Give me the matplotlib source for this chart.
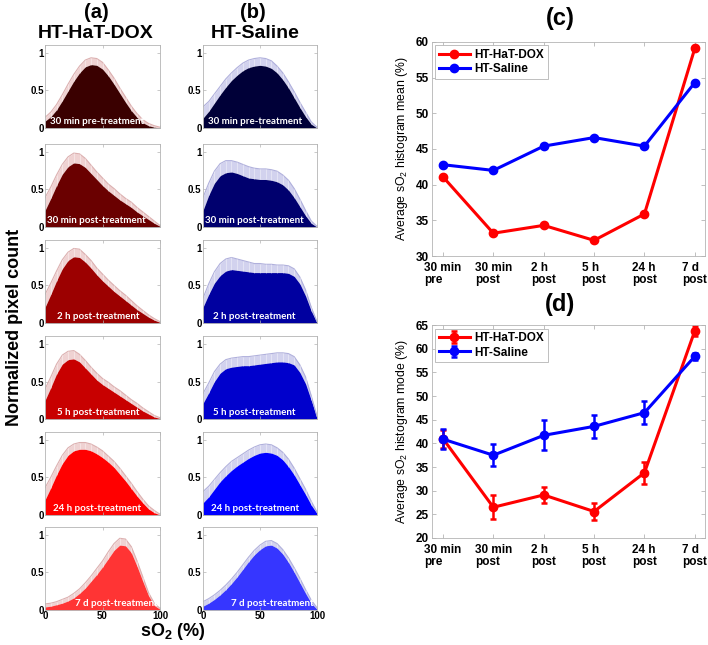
import matplotlib
matplotlib.use('Agg')
import matplotlib.pyplot as plt

# ---------------- data ----------------
so2 = [0, 5, 10, 15, 20, 25, 30, 35, 40, 45, 50, 55, 60, 65, 70, 75, 80, 85, 90, 95, 100]

panel_labels = ['30 min pre-treatment', '30 min post-treatment', '2 h post-treatment',
                '5 h post-treatment', '24 h post-treatment', '7 d post-treatment']

# HT-HaT-DOX normalized histograms (mean, upper error)
dox_pre30_mean = [0.09, 0.15, 0.24, 0.36, 0.49, 0.62, 0.73, 0.81, 0.84, 0.83, 0.78, 0.69, 0.58, 0.46, 0.34, 0.23, 0.14, 0.07, 0.03, 0.01, 0.0]
dox_pre30_err = [0.05, 0.06, 0.07, 0.08, 0.09, 0.09, 0.09, 0.09, 0.09, 0.09, 0.09, 0.08, 0.08, 0.07, 0.07, 0.06, 0.05, 0.04, 0.03, 0.02, 0.01]
dox_post30_mean = [0.22, 0.38, 0.55, 0.70, 0.80, 0.85, 0.84, 0.79, 0.71, 0.63, 0.55, 0.48, 0.42, 0.36, 0.31, 0.26, 0.20, 0.15, 0.10, 0.05, 0.01]
dox_post30_err = [0.17, 0.15, 0.14, 0.13, 0.13, 0.13, 0.13, 0.12, 0.11, 0.10, 0.10, 0.09, 0.09, 0.08, 0.07, 0.07, 0.06, 0.05, 0.04, 0.03, 0.01]
dox_2h_mean = [0.21, 0.38, 0.56, 0.72, 0.83, 0.88, 0.87, 0.81, 0.73, 0.64, 0.56, 0.49, 0.42, 0.36, 0.30, 0.24, 0.18, 0.13, 0.08, 0.04, 0.01]
dox_2h_err = [0.17, 0.15, 0.13, 0.12, 0.11, 0.11, 0.11, 0.10, 0.10, 0.09, 0.09, 0.08, 0.08, 0.07, 0.07, 0.06, 0.05, 0.04, 0.03, 0.02, 0.01]
dox_5h_mean = [0.25, 0.42, 0.60, 0.73, 0.79, 0.80, 0.76, 0.68, 0.60, 0.52, 0.46, 0.41, 0.36, 0.31, 0.26, 0.21, 0.16, 0.11, 0.07, 0.03, 0.01]
dox_5h_err = [0.15, 0.14, 0.13, 0.12, 0.11, 0.11, 0.10, 0.10, 0.09, 0.09, 0.08, 0.08, 0.07, 0.07, 0.06, 0.05, 0.05, 0.04, 0.03, 0.02, 0.01]
dox_24h_mean = [0.20, 0.36, 0.53, 0.68, 0.79, 0.85, 0.87, 0.87, 0.85, 0.81, 0.76, 0.70, 0.63, 0.54, 0.45, 0.35, 0.25, 0.16, 0.08, 0.03, 0.0]
dox_24h_err = [0.16, 0.14, 0.12, 0.11, 0.10, 0.09, 0.09, 0.09, 0.09, 0.09, 0.09, 0.08, 0.08, 0.08, 0.07, 0.07, 0.06, 0.05, 0.04, 0.03, 0.01]
dox_7d_mean = [0.04, 0.05, 0.07, 0.09, 0.12, 0.16, 0.22, 0.29, 0.38, 0.47, 0.57, 0.68, 0.79, 0.86, 0.85, 0.76, 0.58, 0.38, 0.19, 0.06, 0.01]
dox_7d_err = [0.04, 0.04, 0.04, 0.05, 0.05, 0.06, 0.06, 0.07, 0.07, 0.08, 0.08, 0.09, 0.09, 0.09, 0.09, 0.08, 0.07, 0.06, 0.04, 0.03, 0.01]

# HT-Saline normalized histograms (mean, upper error)
sal_pre30_mean = [0.13, 0.22, 0.33, 0.44, 0.54, 0.63, 0.70, 0.76, 0.80, 0.82, 0.83, 0.82, 0.79, 0.73, 0.64, 0.53, 0.40, 0.27, 0.15, 0.05, 0.0]
sal_pre30_err = [0.15, 0.13, 0.12, 0.11, 0.11, 0.10, 0.10, 0.10, 0.10, 0.10, 0.10, 0.10, 0.10, 0.09, 0.09, 0.08, 0.08, 0.07, 0.06, 0.03, 0.01]
sal_post30_mean = [0.22, 0.42, 0.58, 0.68, 0.72, 0.73, 0.71, 0.68, 0.65, 0.64, 0.63, 0.63, 0.62, 0.60, 0.56, 0.49, 0.39, 0.27, 0.15, 0.05, 0.0]
sal_post30_err = [0.17, 0.16, 0.16, 0.16, 0.16, 0.15, 0.15, 0.15, 0.15, 0.14, 0.14, 0.14, 0.14, 0.14, 0.13, 0.13, 0.12, 0.10, 0.07, 0.03, 0.01]
sal_2h_mean = [0.21, 0.38, 0.53, 0.63, 0.69, 0.71, 0.70, 0.69, 0.68, 0.67, 0.67, 0.67, 0.67, 0.67, 0.67, 0.66, 0.62, 0.52, 0.36, 0.16, 0.01]
sal_2h_err = [0.12, 0.14, 0.15, 0.16, 0.16, 0.16, 0.15, 0.14, 0.13, 0.12, 0.12, 0.11, 0.11, 0.10, 0.10, 0.10, 0.10, 0.09, 0.08, 0.05, 0.01]
sal_5h_mean = [0.21, 0.35, 0.50, 0.61, 0.67, 0.69, 0.70, 0.71, 0.71, 0.72, 0.73, 0.74, 0.75, 0.76, 0.76, 0.75, 0.72, 0.62, 0.47, 0.25, 0.02]
sal_5h_err = [0.13, 0.13, 0.13, 0.12, 0.12, 0.12, 0.12, 0.12, 0.12, 0.12, 0.12, 0.12, 0.12, 0.12, 0.12, 0.12, 0.11, 0.10, 0.09, 0.06, 0.02]
sal_24h_mean = [0.16, 0.24, 0.34, 0.44, 0.52, 0.59, 0.65, 0.70, 0.75, 0.79, 0.82, 0.83, 0.82, 0.79, 0.73, 0.64, 0.53, 0.40, 0.27, 0.13, 0.02]
sal_24h_err = [0.15, 0.14, 0.13, 0.12, 0.12, 0.12, 0.11, 0.11, 0.11, 0.11, 0.11, 0.11, 0.11, 0.10, 0.10, 0.10, 0.09, 0.08, 0.07, 0.05, 0.02]
sal_7d_mean = [0.05, 0.09, 0.14, 0.20, 0.27, 0.35, 0.44, 0.54, 0.64, 0.73, 0.80, 0.85, 0.86, 0.82, 0.74, 0.63, 0.50, 0.36, 0.22, 0.09, 0.01]
sal_7d_err = [0.06, 0.06, 0.06, 0.06, 0.06, 0.06, 0.06, 0.06, 0.06, 0.06, 0.06, 0.06, 0.06, 0.06, 0.06, 0.06, 0.06, 0.06, 0.05, 0.04, 0.02]

# summary panels
timepoints = ['30 min\npre', '30 min\npost', '2 h\npost', '5 h\npost', '24 h\npost', '7 d\npost']
mean_dox = [41.1, 33.2, 34.3, 32.2, 35.9, 59.1]
mean_saline = [42.8, 42.0, 45.4, 46.6, 45.4, 54.3]
mode_dox = [41.0, 26.5, 29.1, 25.6, 33.8, 63.8]
mode_dox_err = [1.9, 2.5, 1.6, 1.9, 2.3, 1.0]
mode_saline = [40.9, 37.5, 41.7, 43.6, 46.5, 58.4]
mode_saline_err = [2.1, 2.3, 3.2, 2.5, 2.4, 0.8]

# ---------------- styles / layout ----------------
ARIAL = 'Liberation Sans'
CAL = 'Lato'
dox_colors = ['#3a0000', '#6a0000', '#9c0000', '#c80000', '#ff0000', '#ff3434']
sal_colors = ['#000038', '#00006e', '#0000a0', '#0000cc', '#0000ff', '#3636ff']
dox_band = '#efd2d2'
sal_band = '#d2d2ee'
dox_edge = '#dcb0b0'
sal_edge = '#b0b0dc'
spine_col = '#b4b4b4'

row_bottoms = [0.8016, 0.648, 0.499, 0.350, 0.2016, 0.0543]
row_h = 0.1287
left_x, left_w = 0.0636, 0.1624
right_x, right_w = 0.2867, 0.161
dox_text_x = [0.04, 0.02, 0.10, 0.10, 0.07, 0.26]
sal_text_x = [0.045, 0.02, 0.09, 0.09, 0.07, 0.25]

dox_means = [dox_pre30_mean, dox_post30_mean, dox_2h_mean, dox_5h_mean, dox_24h_mean, dox_7d_mean]
dox_errs = [dox_pre30_err, dox_post30_err, dox_2h_err, dox_5h_err, dox_24h_err, dox_7d_err]
sal_means = [sal_pre30_mean, sal_post30_mean, sal_2h_mean, sal_5h_mean, sal_24h_mean, sal_7d_mean]
sal_errs = [sal_pre30_err, sal_post30_err, sal_2h_err, sal_5h_err, sal_24h_err, sal_7d_err]

plt.rcParams['mathtext.fontset'] = 'custom'
plt.rcParams['mathtext.rm'] = ARIAL
plt.rcParams['mathtext.bf'] = ARIAL + ':bold'

fig = plt.figure(figsize=(7.08, 6.45), dpi=100)


def hist_panel(ax, mean, err, color, band, edge, label, tx, bottom_row):
    upper = [m + e for m, e in zip(mean, err)]
    ax.fill_between(so2, mean, upper, color=band, lw=0)
    ax.plot(so2, upper, color=edge, lw=0.8)
    ax.vlines(so2, mean, upper, color='white', lw=0.4, alpha=0.7)
    ax.fill_between(so2, 0, mean, color=color, lw=0)
    ax.set_xlim(0, 100)
    ax.set_ylim(0, 1.1)
    ax.set_yticks([0, 0.5, 1])
    ax.set_yticklabels(['0', '0.5', '1'], fontsize=7, fontweight='bold', family=ARIAL)
    ax.set_xticks([0, 50, 100])
    if bottom_row:
        ax.set_xticklabels(['0', '50', '100'], fontsize=7, fontweight='bold', family=ARIAL)
    else:
        ax.set_xticklabels([])
    ax.tick_params(direction='in', length=2, width=0.5, color=spine_col, pad=1,
                   top=True, right=True)
    for s in ax.spines.values():
        s.set_color(spine_col)
        s.set_linewidth(0.6)
    ax.text(tx, 0.025, label, transform=ax.transAxes, color='white', fontsize=7,
            fontweight='bold', family=CAL, ha='left', va='bottom')


for i in range(6):
    axl = fig.add_axes([left_x, row_bottoms[i], left_w, row_h])
    hist_panel(axl, dox_means[i], dox_errs[i], dox_colors[i], dox_band, dox_edge,
               panel_labels[i], dox_text_x[i], i == 5)
    axr = fig.add_axes([right_x, row_bottoms[i], right_w, row_h])
    hist_panel(axr, sal_means[i], sal_errs[i], sal_colors[i], sal_band, sal_edge,
               panel_labels[i], sal_text_x[i], i == 5)

# headings for left columns
fig.text(96 / 708, 1 - 12 / 645, '(a)', ha='center', va='center', fontsize=14.5,
         fontweight='bold', family=ARIAL)
fig.text(96 / 708, 1 - 33 / 645, 'HT-HaT-DOX', ha='center', va='center', fontsize=14,
         fontweight='bold', family=ARIAL)
fig.text(253 / 708, 1 - 12 / 645, '(b)', ha='center', va='center', fontsize=14.5,
         fontweight='bold', family=ARIAL)
fig.text(255 / 708, 1 - 33 / 645, 'HT-Saline', ha='center', va='center', fontsize=14,
         fontweight='bold', family=ARIAL)
fig.text(15 / 708, 1 - 327 / 645, 'Normalized pixel count', rotation=90, ha='center',
         va='center', fontsize=13, fontweight='bold', family=ARIAL)
fig.text(173 / 708, 1 - 632 / 645, r'sO$_\mathbf{2}$ (%)', ha='center', va='center',
         fontsize=13, fontweight='bold', family=ARIAL)


def line_panel(ax, ydox, ysal, edox, esal, ylim, yticks, ylabel):
    xs = list(range(1, len(timepoints) + 1))
    if edox is None:
        ax.plot(xs, ydox, '-o', color='#ff0000', lw=2.2, ms=6, label='HT-HaT-DOX')
        ax.plot(xs, ysal, '-o', color='#0000ff', lw=2.2, ms=6, label='HT-Saline')
    else:
        ax.errorbar(xs, ydox, yerr=edox, fmt='-o', color='#ff0000', lw=2.2, ms=6,
                    capsize=2.5, elinewidth=1.8, capthick=1.8, label='HT-HaT-DOX')
        ax.errorbar(xs, ysal, yerr=esal, fmt='-o', color='#0000ff', lw=2.2, ms=6,
                    capsize=2.5, elinewidth=1.8, capthick=1.8, label='HT-Saline')
    ax.set_xlim(0.78, 6.2)
    ax.set_ylim(*ylim)
    ax.set_yticks(yticks)
    ax.set_yticklabels([str(v) for v in yticks], fontsize=8.5, fontweight='bold', family=ARIAL)
    ax.set_xticks(xs)
    ax.set_xticklabels(timepoints, fontsize=8.5, fontweight='bold', family=ARIAL,
                       linespacing=1.0)
    for t in ax.get_xticklabels():
        t.set_multialignment('left')
    ax.tick_params(direction='in', length=3, width=0.6, color=spine_col,
                   top=True, right=True)
    ax.tick_params(axis='x', pad=4.5)
    ax.tick_params(axis='y', pad=2)
    for s in ax.spines.values():
        s.set_color(spine_col)
        s.set_linewidth(0.6)
    ax.set_ylabel(ylabel, fontsize=8.8, family=ARIAL, labelpad=4)
    leg = ax.legend(loc='upper left', prop={'family': ARIAL, 'weight': 'bold', 'size': 8.5},
                    fancybox=False, edgecolor=spine_col, handlelength=2.6,
                    borderaxespad=0.3, borderpad=0.3, labelspacing=0.2, handletextpad=0.4,
                    framealpha=1)
    leg.get_frame().set_linewidth(0.6)


axc = fig.add_axes([0.610, 0.603, 0.3856, 0.332])
line_panel(axc, mean_dox, mean_saline, None, None, (30, 60), [30, 35, 40, 45, 50, 55, 60],
           r'Average sO$_2$ histogram mean (%)')
axd = fig.add_axes([0.610, 0.1659, 0.3856, 0.330])
line_panel(axd, mode_dox, mode_saline, mode_dox_err, mode_saline_err, (20, 65),
           [20, 25, 30, 35, 40, 45, 50, 55, 60, 65],
           r'Average sO$_2$ histogram mode (%)')

fig.text(560 / 708, 1 - 19 / 645, '(c)', ha='center', va='center', fontsize=17,
         fontweight='bold', family=ARIAL)
fig.text(560 / 708, 1 - 304 / 645, '(d)', ha='center', va='center', fontsize=17,
         fontweight='bold', family=ARIAL)

fig.savefig('out.png', dpi=100)
